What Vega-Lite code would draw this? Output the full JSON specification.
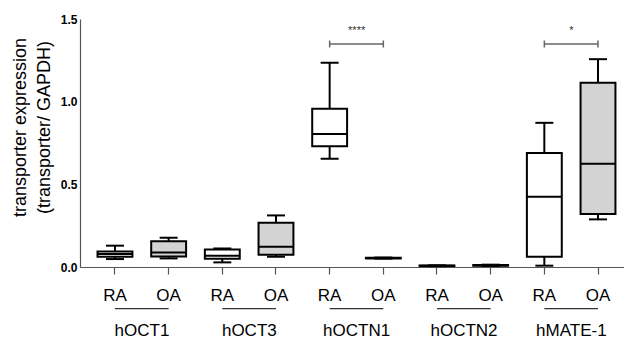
{
  "$schema": "https://vega.github.io/schema/vega-lite/v6.json",
  "width": 544,
  "height": 248,
  "autosize": {"type": "none"},
  "padding": {"left": 80, "top": 19, "right": 0, "bottom": 73},
  "config": {
    "view": {"stroke": null},
    "font": "Liberation Sans",
    "axisY": {
      "grid": false, "ticks": false,
      "labelFontWeight": "bold", "labelFontSize": 12, "labelColor": "black", "labelPadding": 3,
      "domainColor": "#555", "domainWidth": 1.2,
      "titleFontSize": 18, "titleFontWeight": "normal", "titleColor": "black",
      "titleFont": "Liberation Sans", "titleLineHeight": 24,
      "titleAngle": -90, "titleAlign": "center", "titleBaseline": "middle",
      "titleX": -60, "titleY": 108
    },
    "axisX": {
      "labelAngle": 0, "labelFontSize": 17, "labelColor": "black",
      "labelFont": "Liberation Sans",
      "tickSize": 7, "labelPadding": 13,
      "domainColor": "#555", "tickColor": "#555", "domainWidth": 1.2, "tickWidth": 1.2
    }
  },
  "datasets": {
    "boxes": [
      {"cat": "hOCT1 RA", "g": "RA", "min": 0.048, "q1": 0.062, "med": 0.079, "q3": 0.094, "max": 0.129},
      {"cat": "hOCT1 OA", "g": "OA", "min": 0.052, "q1": 0.064, "med": 0.088, "q3": 0.155, "max": 0.177},
      {"cat": "hOCT3 RA", "g": "RA", "min": 0.028, "q1": 0.050, "med": 0.068, "q3": 0.106, "max": 0.112},
      {"cat": "hOCT3 OA", "g": "OA", "min": 0.062, "q1": 0.074, "med": 0.123, "q3": 0.268, "max": 0.312},
      {"cat": "hOCTN1 RA", "g": "RA", "min": 0.654, "q1": 0.731, "med": 0.804, "q3": 0.957, "max": 1.236},
      {"cat": "hOCTN1 OA", "g": "OA", "min": 0.051, "q1": 0.052, "med": 0.054, "q3": 0.056, "max": 0.057},
      {"cat": "hOCTN2 RA", "g": "RA", "min": 0.005, "q1": 0.006, "med": 0.007, "q3": 0.009, "max": 0.010},
      {"cat": "hOCTN2 OA", "g": "OA", "min": 0.006, "q1": 0.008, "med": 0.010, "q3": 0.012, "max": 0.014},
      {"cat": "hMATE-1 RA", "g": "RA", "min": 0.008, "q1": 0.062, "med": 0.425, "q3": 0.689, "max": 0.872},
      {"cat": "hMATE-1 OA", "g": "OA", "min": 0.288, "q1": 0.320, "med": 0.624, "q3": 1.114, "max": 1.257}
    ],
    "groups": [
      {"name": "hOCT1", "a": "hOCT1 RA", "b": "hOCT1 OA"},
      {"name": "hOCT3", "a": "hOCT3 RA", "b": "hOCT3 OA"},
      {"name": "hOCTN1", "a": "hOCTN1 RA", "b": "hOCTN1 OA"},
      {"name": "hOCTN2", "a": "hOCTN2 RA", "b": "hOCTN2 OA"},
      {"name": "hMATE-1", "a": "hMATE-1 RA", "b": "hMATE-1 OA"}
    ],
    "sig": [
      {"a": "hOCTN1 RA", "b": "hOCTN1 OA", "stars": "****"},
      {"a": "hMATE-1 RA", "b": "hMATE-1 OA", "stars": "*"}
    ]
  },
  "layer": [
    {
      "data": {"name": "boxes"},
      "mark": {"type": "rule", "color": "black", "strokeWidth": 2},
      "encoding": {
        "x": {
          "field": "cat", "type": "nominal", "sort": null, "title": null,
          "scale": {
            "domain": ["hOCT1 RA", "hOCT1 OA", "hOCT3 RA", "hOCT3 OA", "hOCTN1 RA", "hOCTN1 OA", "hOCTN2 RA", "hOCTN2 OA", "hMATE-1 RA", "hMATE-1 OA"],
            "paddingInner": 0.35, "paddingOuter": 0.243, "align": 0.672
          },
          "axis": {"labelExpr": "split(datum.label, ' ')[1]"}
        },
        "y": {
          "field": "min", "type": "quantitative",
          "title": ["transporter expression", "(transporter/ GAPDH)"],
          "scale": {"domain": [0, 1.5], "nice": false, "zero": false},
          "axis": {"values": [0, 0.5, 1, 1.5], "format": ".1f"}
        },
        "y2": {"field": "max"}
      }
    },
    {
      "data": {"name": "boxes"},
      "mark": {"type": "bar", "stroke": "black", "strokeWidth": 2},
      "encoding": {
        "x": {"field": "cat", "type": "nominal", "sort": null},
        "y": {"field": "q1", "type": "quantitative"},
        "y2": {"field": "q3"},
        "fill": {"field": "g", "type": "nominal", "scale": {"domain": ["RA", "OA"], "range": ["white", "#d3d3d3"]}, "legend": null}
      }
    },
    {
      "data": {"name": "boxes"},
      "mark": {"type": "tick", "orient": "horizontal", "color": "black", "size": 35, "thickness": 2, "opacity": 1},
      "encoding": {
        "x": {"field": "cat", "type": "nominal", "sort": null},
        "y": {"field": "med", "type": "quantitative"}
      }
    },
    {
      "data": {"name": "boxes"},
      "mark": {"type": "tick", "orient": "horizontal", "color": "black", "size": 18, "thickness": 2, "opacity": 1},
      "encoding": {
        "x": {"field": "cat", "type": "nominal", "sort": null},
        "y": {"field": "max", "type": "quantitative"}
      }
    },
    {
      "data": {"name": "boxes"},
      "mark": {"type": "tick", "orient": "horizontal", "color": "black", "size": 18, "thickness": 2, "opacity": 1},
      "encoding": {
        "x": {"field": "cat", "type": "nominal", "sort": null},
        "y": {"field": "min", "type": "quantitative"}
      }
    },
    {
      "data": {"name": "groups"},
      "mark": {"type": "rule", "color": "#333", "strokeWidth": 1.2},
      "encoding": {
        "x": {"field": "a", "type": "nominal", "sort": null},
        "x2": {"field": "b"},
        "y": {"datum": -0.252, "type": "quantitative"}
      }
    },
    {
      "data": {"name": "groups"},
      "mark": {"type": "text", "fontSize": 17, "color": "black", "dx": 27, "align": "center", "baseline": "alphabetic"},
      "encoding": {
        "x": {"field": "a", "type": "nominal", "sort": null},
        "y": {"datum": -0.415, "type": "quantitative"},
        "text": {"field": "name"}
      }
    },
    {
      "data": {"name": "sig"},
      "mark": {"type": "rule", "color": "#666", "strokeWidth": 1.5},
      "encoding": {
        "x": {"field": "a", "type": "nominal", "sort": null},
        "x2": {"field": "b"},
        "y": {"datum": 1.349, "type": "quantitative"}
      }
    },
    {
      "data": {"name": "sig"},
      "mark": {"type": "tick", "orient": "vertical", "color": "#666", "size": 7, "thickness": 1.5, "opacity": 1},
      "encoding": {
        "x": {"field": "a", "type": "nominal", "sort": null},
        "y": {"datum": 1.349, "type": "quantitative"}
      }
    },
    {
      "data": {"name": "sig"},
      "mark": {"type": "tick", "orient": "vertical", "color": "#666", "size": 7, "thickness": 1.5, "opacity": 1},
      "encoding": {
        "x": {"field": "b", "type": "nominal", "sort": null},
        "y": {"datum": 1.349, "type": "quantitative"}
      }
    },
    {
      "data": {"name": "sig"},
      "mark": {"type": "text", "fontSize": 11, "color": "#333", "dx": 27, "align": "center", "baseline": "middle"},
      "encoding": {
        "x": {"field": "a", "type": "nominal", "sort": null},
        "y": {"datum": 1.43, "type": "quantitative"},
        "text": {"field": "stars"}
      }
    }
  ]
}
